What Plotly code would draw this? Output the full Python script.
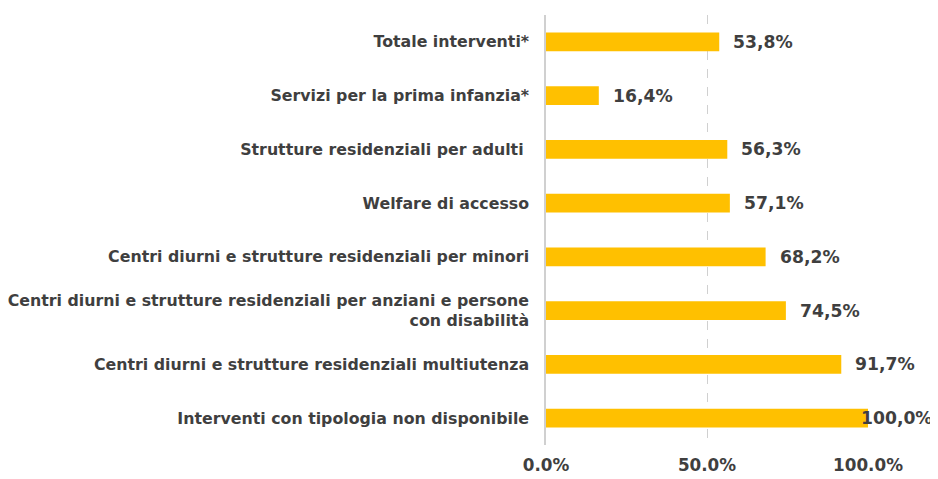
import plotly.graph_objects as go

categories = [
    "Totale interventi*",
    "Servizi per la prima infanzia*",
    "Strutture residenziali per adulti ",
    "Welfare di accesso",
    "Centri diurni e strutture residenziali per minori",
    "Centri diurni e strutture residenziali per anziani e persone<br>con disabilità",
    "Centri diurni e strutture residenziali multiutenza",
    "Interventi con tipologia non disponibile",
]
values = [53.8, 16.4, 56.3, 57.1, 68.2, 74.5, 91.7, 100.0]
tick_vals = [0, 50, 100]
tick_text = [f"{t:.1f}%" for t in tick_vals]

labels = [f"{v:.1f}%".replace(".", ",") for v in values]

FONT = "DejaVu Sans"
TXT = "#3F3F3F"

fig = go.Figure()
fig.add_trace(go.Bar(
    y=categories, x=values, orientation="h",
    marker=dict(color="#FFC000", line=dict(width=0)),
    width=0.35, hoverinfo="skip",
))

for c, v, lab in zip(categories, values, labels):
    fig.add_annotation(
        x=v, y=c, text=lab, showarrow=False, xanchor="left",
        xshift=12 if v < 100 else -9,
        font=dict(family=FONT, size=17.2, color=TXT, weight="bold"),
    )

fig.update_layout(
    width=938, height=479,
    margin=dict(l=538, r=78, t=7, b=42, autoexpand=False),
    plot_bgcolor="white", paper_bgcolor="white",
    showlegend=False,
    font=dict(family=FONT, color=TXT),
    xaxis=dict(
        range=[0, 100], tickvals=tick_vals, ticktext=tick_text,
        showgrid=True, gridcolor="#D0D0D0", griddash="dash", gridwidth=1.2,
        zeroline=False, showline=False, automargin=False,
        tickfont=dict(family=FONT, size=16.8, color=TXT, weight="bold"),
        ticklabelstandoff=8,
    ),
    yaxis=dict(
        showgrid=False, zeroline=False, automargin=False,
        showline=True, linecolor="#D0D0D0", linewidth=1.5,
        tickfont=dict(family=FONT, size=15.8, color=TXT, weight="bold"),
        ticklabelstandoff=12, autorange=False, range=[7.5, -0.5],
    ),
)

fig.write_html("out.html")
